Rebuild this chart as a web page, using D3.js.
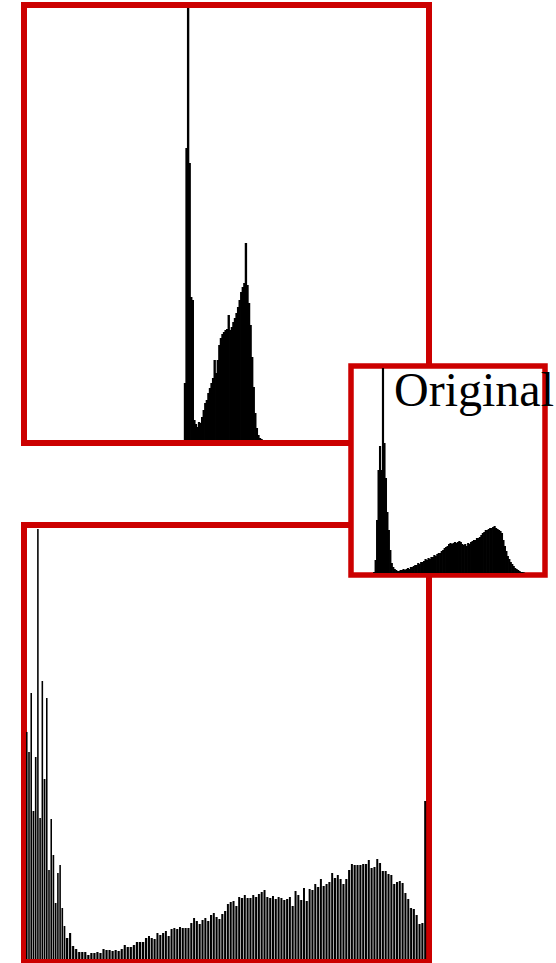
<!DOCTYPE html>
<html>
<head>
<meta charset="utf-8">
<script src="https://cdn.jsdelivr.net/npm/d3@7"></script>
<style>
  html, body { margin: 0; padding: 0; background: #fff; }
  svg { display: block; }
</style>
</head>
<body>
<svg id="chart" width="556" height="963"></svg>
<script>
// Contrast-reduced image: counts of the occupied bins (101..150 of 256)
const contrastStartBin = 101;
const contrastCounts = [
  570, 2920, 4320, 2770, 1430, 1400, 200, 160, 130, 180,
  170, 230, 300, 370, 400, 470, 520, 570, 620, 800,
  670, 800, 950, 1020, 1060, 1080, 1100, 1110, 1250, 1100,
  1130, 1180, 1220, 1270, 1330, 1400, 1480, 1530, 1570, 1970,
  1550, 1370, 1150, 830, 530, 270, 120, 50, 20, 10
];

// Equalized image: one count per occupied output level, left to right
const equalizedCounts = [
  2270, 2070, 2660, 1480, 2020, 4300, 1410, 2780, 1800, 2610,
  890, 1400, 1040, 560, 860, 940, 510, 330, 210, 260,
  130, 100, 70, 70, 70, 40, 60, 60, 70, 60,
  100, 90, 90, 80, 90, 80, 100, 140, 120, 120,
  140, 170, 170, 170, 210,
  230, 210, 200, 260, 240, 260, 280, 230, 300, 310,
  300, 320, 310, 310, 310, 360, 410, 380, 350, 390,
  410, 380, 440, 460, 420, 400, 450, 480, 550, 570,
  580, 530, 620, 610, 640, 610, 610, 640, 620, 650,
  670, 690, 620, 610, 630, 600, 620, 610, 590, 600,
  620, 530, 680, 640, 590, 710, 580, 700, 690, 750,
  720, 800, 730, 750, 770, 860, 810, 840, 800, 750,
  800, 890, 950, 940, 940, 940, 950, 950, 990, 910,
  920, 1000, 960, 880, 880, 850, 840, 750, 770, 780,
  760, 660, 600, 510, 500, 440, 350, 360,
  1580
];

// Original image: 128-bin histogram, occupied bins from 13 on
const originalStartBin = 13;
const originalCounts = [
  10, 130, 530, 1030, 1270, 1030, 2050, 1300, 950, 610,
  430, 230, 100, 60, 40, 30, 20, 20, 30, 30,
  40, 30, 40, 50, 40, 60, 60, 70, 80, 80,
  100, 90, 110, 110, 120, 140, 130, 150, 140, 160,
  160, 180, 170, 190, 200, 200, 220, 230, 250, 260,
  270, 290, 300, 290, 300, 310, 300, 310, 320, 310,
  290, 280, 290, 270, 300, 290, 310, 320, 330, 330,
  350, 350, 360, 380, 400, 410, 430, 430, 440, 450,
  450, 460, 470, 450, 440, 430, 420, 400, 330, 270,
  220, 170, 140, 110, 90, 70, 50, 40, 30, 20,
  10, 10, 5
];

const originalLabel = "Original";

const RED = "#cc0000";
const svg = d3.select("#chart");

function frame(x, y, w, h, sw) {
  svg.append("rect")
    .attr("x", x).attr("y", y).attr("width", w).attr("height", h)
    .attr("fill", "#fff").attr("stroke", RED).attr("stroke-width", sw);
}

// ---- Top panel: contrast-reduced histogram (256 bins) ----
frame(24, 5, 405, 438, 6);
{
  const x = d3.scaleLinear().domain([0, 256]).range([26, 426]);
  const y = d3.scaleLinear().domain([0, 4320]).range([440, 8]).clamp(true);
  const bins = contrastCounts.map((c, i) => ({ bin: contrastStartBin + i, count: c }));
  svg.append("g").selectAll("rect").data(bins).join("rect")
    .attr("x", d => x(d.bin))
    .attr("width", x(1) - x(0) + 0.8)
    .attr("y", d => y(d.count))
    .attr("height", d => y(0) - y(d.count))
    .attr("fill", "#000");
}

// ---- Bottom panel: equalized histogram, separated levels ----
frame(24, 525, 405, 437, 6);
{
  const n = equalizedCounts.length;
  // dark levels sit closer together than the mid and bright ones
  const x = d3.scaleLinear().domain([0, 18, 45, n]).range([26, 66, 148, 427]);
  const y = d3.scaleLinear().domain([0, 4300]).range([959, 529]).clamp(true);
  const step = i => x(i + 1) - x(i);
  const g = svg.append("g");
  // soft grey seam between neighbouring levels
  g.selectAll("rect.seam").data(equalizedCounts.slice(0, n - 1)).join("rect")
    .attr("class", "seam")
    .attr("x", (d, i) => x(i) + step(i) * 0.68)
    .attr("width", (d, i) => step(i) * 0.34)
    .attr("y", (d, i) => y(Math.min(d, equalizedCounts[i + 1])))
    .attr("height", (d, i) => y(0) - y(Math.min(d, equalizedCounts[i + 1])))
    .attr("fill", "#c4c4c4");
  g.selectAll("rect.bar").data(equalizedCounts).join("rect")
    .attr("class", "bar")
    .attr("x", (d, i) => x(i))
    .attr("width", (d, i) => step(i) * 0.7)
    .attr("y", d => y(d))
    .attr("height", d => y(0) - y(d))
    .attr("fill", "#000");
}

// ---- Inset: original histogram ----
frame(351, 366, 194, 209, 5.5);
{
  const x = d3.scaleLinear().domain([0, 128]).range([354, 542]);
  const y = d3.scaleLinear().domain([0, 2050]).range([573, 368]).clamp(true);
  const bins = originalCounts.map((c, i) => ({ bin: originalStartBin + i, count: c }));
  svg.append("g").selectAll("rect").data(bins).join("rect")
    .attr("x", d => x(d.bin))
    .attr("width", x(1) - x(0) + 0.7)
    .attr("y", d => y(d.count))
    .attr("height", d => y(0) - y(d.count))
    .attr("fill", "#000");
}

svg.append("text")
  .attr("x", 394).attr("y", 406)
  .attr("font-family", "'Liberation Serif', 'Times New Roman', serif")
  .attr("font-size", 48)
  .attr("fill", "#000")
  .text(originalLabel);
</script>
</body>
</html>
